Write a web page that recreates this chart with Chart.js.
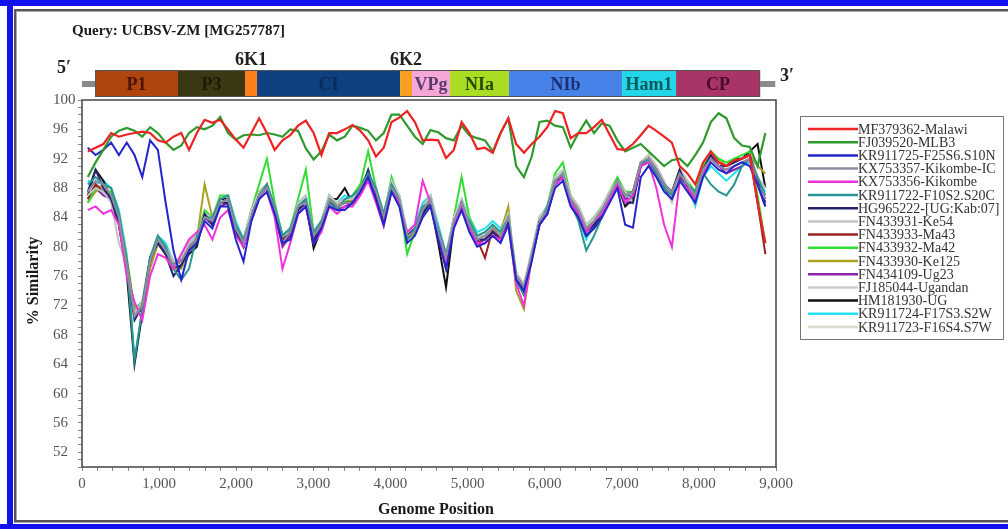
<!DOCTYPE html>
<html><head><meta charset="utf-8">
<script src="https://cdn.jsdelivr.net/npm/chart.js@4.4.1/dist/chart.umd.min.js"></script>
<style>html,body{margin:0;padding:0;background:#fff}canvas{display:block}</style>
</head><body>
<canvas id="c" width="1008" height="529"></canvas>
<script>
// ---------- DATA ----------
const titleText = 'Query: UCBSV-ZM [MG257787]';
const xTitle = 'Genome Position';
const yTitle = '% Similarity';
const firstPosition = 75, positionStep = 101, pointCount = 88;

const seriesNames = ['MF379362-Malawi','FJ039520-MLB3','KR911725-F25S6.S10N','KX753357-Kikombe-IC','KX753356-Kikombe','KR911722-F10S2.S20C','HG965222-[UG:Kab:07]','FN433931-Ke54','FN433933-Ma43','FN433932-Ma42','FN433930-Ke125','FN434109-Ug23','FJ185044-Ugandan','HM181930-UG','KR911724-F17S3.S2W','KR911723-F16S4.S7W'];

const malawi = [93,93.5,94,95.5,95,95.3,95.5,95.7,95.5,94.5, 94.2,95,95.5,93.2,95.5,97.3,96.9,97.3,96,94.6, 93.5,95.5,97.5,95.5,93.2,94.5,95.2,96.5,97.2,95.5, 92.5,95.5,95.5,96,96.6,95.8,94.5,92.3,93.5,97, 97.6,98.5,97,94.5,94.6,94.5,92.1,93.2,97,95.5, 93.3,93.5,92.8,95.5,97.5,94,92.8,94,95,96.3, 98.5,98.2,94.8,95.5,95.5,96.3,97.3,95.3,93.3,93.2, 94,95.2,96.5,95.8,95,94.2,91,90,88.5,91.5, 93,91.5,91,91.8,92,92.5,86,80.5];
const mlb3 = [89.5,91.5,93.2,95,95.8,96.2,95.8,95,96.3,95.5, 94.2,93.2,93.8,95.5,96.3,96,96.5,97.7,95.5,94.6, 95.2,95.3,95.2,95.5,95.3,95,96,95.8,93.4,91.9, 93,95.3,94.5,95,96.5,96.2,95.8,94.5,95.5,98, 98,96.5,95,94,95.9,95.6,94.8,94.5,96.5,95.2, 94.8,94.5,93,95.5,97.5,91,89.5,92.3,97,97.2, 96.5,96.3,93.5,95.5,97.2,95.5,96.8,96.5,94.5,93, 93.5,94,93,92,91,91.8,92,91,92.5,94.2, 97,98.2,97.5,94.8,93.8,93.6,91,95.5];
const f25s6 = [93.5,92.5,93.2,94.2,92.5,94.2,92.5,89.5,94.5,93.2, 86,79.5,75.5,79.5,80.5,83.5,82.5,85.5,85.5,81, 78,83.5,86.5,87.5,84.5,80.5,81,84.5,85.5,80.5, 82.5,85.5,85,85,86,87.5,89.5,86.5,83,87.5, 85.5,80.5,81.5,84,85.5,81,77,82.5,85,82, 80,80.5,81.5,80.5,83,75.5,74,78,83,84.5, 88,89,85.5,84,81.5,82.5,84,86,88,83, 82.6,89.5,91,89.5,87.5,86.5,89,87.5,86,89.5, 91.5,90.5,90,91,91.5,91,88.5,85.5];
const kikombeIC = [87.5,89,88.5,87,84,77.5,70.5,72,78,81,79.5,77.5,78,80,81,84,83.5,86,86.5,82.5, 80.5,84,87,88,85,80.5,82,85.5,86,81.5,83,86.5,85.5,86,86,88,89.5,87.5,84,88, 86.5,81.5,82,85,86.5,82,78.5,83.5,86,83,81,81.5,82.5,81.5,84,76,74.5,79,83.5,85, 89,90,86.5,85,82.5,83.5,85,87,89,87,87.5,91.5,92,90.5,88.5,87.5,90,88.5,87,90.5, 92,91,90.5,91,91.5,92,88.5,86.5];
const kikombe = [85,85.5,84.5,85,83,76,72.5,70,76,79,78.5,77,79,81,82,83,81,84,85,81.5, 80,83.5,86.5,87.5,84,77,80.5,84.5,85.5,80.5,82,85.5,84.5,85.5,85.5,87,89,86,82.8,87.5, 86,82,83,89,86,81.5,78,83,85.5,82.5,80.5,80.5,81.5,81,83,75,72,78.5,83,84.5, 88.5,89.5,86,84.5,82,83.5,84.5,86.5,88.5,86,87,91,91.5,88,83,80,89,88,86.5,90, 92,91,90.5,91,91.5,92,88.5,86.5];
const f10s2 = [88.5,89.5,88.5,88,84.5,78,64.5,71.5,78.5,81.5,80,77,75.5,77,81.5,84,84,86.5,87,83, 81,84,87,88.5,85.5,81.5,82.5,85.5,86.5,82,83.5,86,85,86.5,87,88,90,88,84.5,88.5, 86.5,81,82.5,85.5,86,82.5,79,83,85.5,83.5,81.5,82,83,82,84,75.5,73.5,78.5,83,85.5, 89,90,86,83.5,79.5,81.5,84,86.5,88.5,87,87,91,92,90,88,87,89,88.5,87.5,90, 88.5,87.5,87,88.5,91,92,89.5,87];
const ugKab = [87.5,90.5,88,86.5,83,77,70,72,78.5,80.5,79,76,77.5,79.5,80.5,84.5,83,86,86,82, 80,84,87,88,84.5,80.5,82,85,86,81,82.5,86,85.5,86,86,87.5,90.5,87,83.5,88, 86,81.5,82.5,84.5,86,81.5,77,83,86,83,81,81,82,81,83.5,76,74.5,78.5,83.5,84.5, 89,89.5,86,84.5,82,83,84.5,86.5,88.5,86,86,91,92,90.5,88.5,87.5,90.5,88,86.5,90.5, 92.5,91,91,91.5,92,92.5,89,86];
const ke54 = [87,88,87.5,86,80.5,77.5,71,72.5,78.5,81,80,78,78.5,80.5,81.5,84.5,84,86.5,87,83, 81,85,87.5,88.5,85.5,81.5,82,86,87,82,83.5,87,86,86.5,86.5,88,90,88,84.5,89, 87,82,82.5,85.5,87,82.5,79,84,86.5,83.5,81.5,82,83,82,84.5,76.5,75,79.5,84,85.5, 89.5,90.5,87,85.5,83,84,85.5,87.5,89,87.5,86,91.5,92.5,91,89,86.5,90.5,89,86,90.5, 92.5,91.5,91,91.5,92,92.5,89.5,88];
const ma43 = [86.5,88.5,87.5,87,84,78,71,72,78,81,79.5,77.5,78,80,81,84,83.5,86,86.5,82.5, 80.5,84.5,87.5,88.5,85,81,82,85.5,86.5,81.5,83,86.5,85.5,86,86,88,90,87.5,84,88.5, 86.5,81.5,82,85,86.5,82,78.5,83.5,86,82.5,81,78.5,82.5,81,84,76,74.5,79,83.5,85, 89,90,86.5,85,82.5,83.5,85,87,89,87,87.5,91.5,92,90.5,88.5,87.5,90,88.5,87,90.5, 92.5,91.5,91,91.5,92,92.5,86,79];
const ma42 = [86,88,87.5,87.5,84.5,78.5,71.5,72.5,78.5,81.5,80,78,78,80.5,81.5,85,84,87,87,83, 81,85,88.5,92,86,81.5,82.5,86.5,90.5,82,83.5,87,85.5,86,87,88.5,93,88,84,89.5, 86.5,79,82,85.5,87,82,78.5,84,89.5,84,81.5,82,83,82,84.5,76.5,74.5,79,84,85.5, 90,91.5,87,85.5,83,84,85.5,87.5,89.5,87.5,87.5,91.5,92,90.5,88,87.5,90.5,89,87.5,91, 93,92,91.5,92,92.5,93,87,80.5];
const ke125 = [86,87.5,88.5,88,84.5,78,71,71.5,77,80.5,79,77,77,79.5,81,88.5,84,86,86.5,82.5, 81,84.5,87,88,85.5,81.5,82.5,85.5,86.5,81.5,83,86.5,86,86,86.5,88.5,90,87.5,84.5,88.5, 86,81,82,85,86,82,77.5,83.5,86,83,81,81.5,82.5,82,85.5,74,71.5,78.5,83.5,85, 89,90,86.5,85.5,82.5,83.5,85,87,89,87.5,86,91.5,92.5,91,88.5,87,90,88.5,87.5,91, 92.5,92,91,91.5,92,92.5,91,90];
const ug23 = [86.5,88,87,86.5,83.5,77.5,70.5,71.5,77.5,80.5,79,77.5,78.5,80.5,81.5,84,83,85.5,86,82, 80,84,87,88,84.5,80,81.5,85,86,81,82.5,86,85,85.5,86,87.5,89.5,87,83.5,88, 86,81,82,84.5,86.5,82,78,83,86,82.5,80.5,81,82,81,83.5,75.5,74,78.5,83,84.5, 88.5,89.5,86,84.5,82,83,84.5,86.5,88.5,86.5,87,91,91.5,90,88,86.5,89.5,88,86.5,90, 92,91,90,90.5,91,92,88.5,85.5];
const ugandan = [87.5,88.5,88,87,84,78.5,71.5,72.5,78.5,81.5,80,78,78.5,80.5,81,84.5,84,86,86.5,82.5, 81,84.5,87.5,88.5,85,81,82,85.5,86.5,81.5,83,86.5,85.5,86,86.5,88,90,87.5,84,88.5, 86.5,81.5,82,85,86.5,82,79,83.5,86,83,81.5,81.5,82.5,81.5,84,76,75,79,83.5,85, 89,90,86.5,85,82.5,83.5,85,87,89,87,87.5,91.5,92,90.5,88.5,86,90,88.5,86,90.5, 92.5,91.5,91,91.5,92,92.5,89.5,88];
const hm181930 = [87,90.5,89,86.5,83,76.5,64,71,78,80.5,79,77,77.5,79,80,84.5,83,86.5,86.5,82, 80,84,87,88.5,84.5,80.5,81.5,85,86,79.8,82.5,86.5,86.5,88,86,87.5,90,87,83.5,88.5, 86,81.5,82,84.5,86,80.5,74.5,83,86,82.5,80.5,81,82,81,83.5,75.5,73.5,78.5,83,84.5, 88.5,89.5,86.5,84,81.5,82.5,84,86.5,88.5,85.5,86.5,91,92,90,88.5,87,90,88,86,90.5, 92.5,91.5,91,92,92,93,94,88];
const f17s3 = [89,88.5,89,88,85,79,64.5,71.5,78.5,81.5,80.5,78,77,80,81.5,84.5,84,86.5,87,83.5, 81,85,87.5,88.5,85.5,81.5,82.5,86,87,82,83.5,87,86,87,86.5,88,90,88,84.5,89, 87,82,83,86,87,83,79,84,86.5,84,82,82.5,83.5,82.5,84.5,76,74,79,84,85.5, 89,90,86.5,84,81,83,85,87,89,87.5,86.5,91,92,90.5,88.5,87,89.5,88.5,85.5,89.5, 91,90,89,90,91,91.5,89,87.5];
const f16s4 = [88,88.5,88,87.5,84,78,71,72,78,81,79.5,77.5,78,80,81,84.5,83.5,86,86.5,82.5, 80.5,84.5,87.5,88.5,85,81,82,85.5,86.5,81.5,83,86.5,85.5,86,86.5,88,90,87.5,84,88.5, 86.5,81.5,82,85,86.5,82,78.5,83.5,86,83,81,81.5,82.5,81.5,84,76,74.5,79,83.5,85, 89,90,86.5,85,82.5,83.5,85,87,89,87,87.5,91.5,92,90.5,88.5,87.5,90,88.5,87,90.5, 92.5,91.5,91,91.5,92,92.5,89.5,88];

const seriesValues = [malawi, mlb3, f25s6, kikombeIC, kikombe, f10s2, ugKab, ke54, ma43, ma42, ke125, ug23, ugandan, hm181930, f17s3, f16s4];

const xTickValues = [0,1000,2000,3000,4000,5000,6000,7000,8000,9000];
const yTickValues = [52,56,60,64,68,72,76,80,84,88,92,96,100];

const genomeStart = 0, genomeEnd = 8990;
const regionNames  = ['P1','P3','6K1','CI','6K2','VPg','NIa','NIb','Ham1','CP'];
const regionStarts = [169,1245,2114,2270,4125,4280,4773,5538,7004,7704];
const regionEnds   = [1245,2114,2270,4125,4280,4773,5538,7004,7704,8794];

// ---------- STYLES ----------
const seriesColors = ['#ee2222','#2e9a2e','#2424cc','#8c8ca2','#ee33dd','#2a9595','#24246e','#c4c4c4','#9a2222','#33dd33','#aaa020','#8a22aa','#cacaca','#111111','#22e0f0','#d4dccc'];
const regionColors = ['#b0440f','#3d3814','#ff7f1a','#0e4080','#f5a020','#f5a8d8','#aadd22','#4682e8','#22d5e8','#a83468'];
const regionTextColors = ['#4a1404','#1c1a08',null,'#0a2a5a',null,'#5a3a6a','#2a4a00','#1a3070','#0a5a5a','#4a0a28'];
const SERIF = "'Liberation Serif', 'DejaVu Serif', serif";

const positions = [];
for (let i = 0; i < pointCount; i++) positions.push(firstPosition + positionStep * i);

const datasets = seriesNames.map((name, i) => ({
  label: name,
  data: positions.map((p, k) => ({x: p, y: seriesValues[i][k]})),
  borderColor: seriesColors[i],
  backgroundColor: seriesColors[i],
  borderWidth: i < 2 ? 2.2 : 2,
  pointRadius: 0,
  tension: 0,
  fill: false
}));

const decorPlugin = {
  id: 'decor',
  beforeDraw(chart) {
    const ctx = chart.ctx;
    ctx.save();
    ctx.fillStyle = '#fff';
    ctx.fillRect(0, 0, chart.width, chart.height);
    ctx.restore();
  },
  afterDraw(chart) {
    const ctx = chart.ctx, xs = chart.scales.x, a = chart.chartArea;
    ctx.save();
    // plot box
    ctx.strokeStyle = '#444'; ctx.lineWidth = 1.5;
    ctx.strokeRect(a.left, a.top, a.right - a.left, a.bottom - a.top);

    // genome map
    const top = 70, bot = 97;
    ctx.fillStyle = '#8a8a8a';
    ctx.fillRect(xs.getPixelForValue(genomeStart), 81, xs.getPixelForValue(regionStarts[0]) - xs.getPixelForValue(genomeStart), 6);
    ctx.fillRect(xs.getPixelForValue(regionEnds[regionEnds.length-1]), 81, xs.getPixelForValue(genomeEnd) - xs.getPixelForValue(regionEnds[regionEnds.length-1]), 6);
    regionNames.forEach((n, i) => {
      const x0 = xs.getPixelForValue(regionStarts[i]), x1 = xs.getPixelForValue(regionEnds[i]);
      ctx.fillStyle = regionColors[i];
      ctx.fillRect(x0, top, x1 - x0, bot - top);
    });
    ctx.strokeStyle = '#555'; ctx.lineWidth = 1;
    ctx.strokeRect(xs.getPixelForValue(regionStarts[0]) + 0.5, top + 0.5, xs.getPixelForValue(regionEnds[regionEnds.length-1]) - xs.getPixelForValue(regionStarts[0]) - 1, bot - top - 1);
    ctx.textAlign = 'center'; ctx.textBaseline = 'middle';
    ctx.font = 'bold 18px ' + SERIF;
    regionNames.forEach((n, i) => {
      const x0 = xs.getPixelForValue(regionStarts[i]), x1 = xs.getPixelForValue(regionEnds[i]);
      if (regionTextColors[i]) {
        ctx.fillStyle = regionTextColors[i];
        ctx.fillText(n, (x0 + x1) / 2, 85);
      } else {
        ctx.fillStyle = '#222';
        ctx.fillText(n, (x0 + x1) / 2, 60);
      }
    });
    ctx.fillStyle = '#222';
    ctx.fillText('5\u2032', 64, 68);
    ctx.fillText('3\u2032', 787, 76);

    // title
    ctx.textAlign = 'left';
    ctx.font = 'bold 15px ' + SERIF;
    ctx.fillStyle = '#1a1a1a';
    ctx.fillText(titleText, 72, 31);

    // axis titles
    ctx.font = 'bold 16px ' + SERIF;
    ctx.textAlign = 'center';
    ctx.fillText(xTitle, 436, 510);
    ctx.save();
    ctx.translate(34, 281);
    ctx.rotate(-Math.PI / 2);
    ctx.fillText(yTitle, 0, 0);
    ctx.restore();

    // legend
    ctx.strokeStyle = '#777'; ctx.lineWidth = 1;
    ctx.strokeRect(800.5, 116.5, 203, 223);
    ctx.font = '14px ' + SERIF;
    ctx.textAlign = 'left';
    chart.data.datasets.forEach((ds, i) => {
      const y = 129 + 13.2 * i;
      ctx.strokeStyle = ds.borderColor; ctx.lineWidth = 2.5;
      ctx.beginPath(); ctx.moveTo(808, y); ctx.lineTo(858, y); ctx.stroke();
      ctx.fillStyle = '#333';
      ctx.fillText(ds.label, 858, y + 1);
    });

    // frame
    ctx.fillStyle = '#1212ee';
    ctx.fillRect(0, 0, chart.width, 6);
    ctx.fillRect(7, 0, 6, chart.height);
    ctx.fillRect(0, 524, chart.width, 5);
    ctx.fillStyle = '#555';
    ctx.fillRect(14, 9, chart.width - 14, 2);
    ctx.fillRect(14, 9, 2, 513);
    ctx.fillRect(14, 520, chart.width - 14, 2);
    ctx.fillStyle = '#aaa';
    ctx.fillRect(16, 11, chart.width - 16, 1);
    ctx.fillRect(16, 11, 1, 509);
    ctx.fillRect(14, 522, chart.width - 14, 1);
    ctx.restore();
  }
};

new Chart(document.getElementById('c'), {
  type: 'line',
  data: { datasets },
  options: {
    responsive: false,
    animation: false,
    devicePixelRatio: 1,
    layout: { padding: { left: 53, right: 232, top: 100, bottom: 0 } },
    plugins: { legend: { display: false }, tooltip: { enabled: false } },
    scales: {
      x: {
        type: 'linear', min: 0, max: 9000,
        afterBuildTicks: s => { const t = []; for (let v = 0; v <= 9000; v += 200) t.push({value: v}); s.ticks = t; },
        afterFit: s => { s.height = 62; },
        ticks: { autoSkip: false, maxRotation: 0, padding: 4, color: '#555', font: { family: SERIF, size: 15 },
          callback: v => xTickValues.includes(v) ? v.toLocaleString('en-US') : '' },
        grid: { drawOnChartArea: false, tickLength: 4, tickColor: '#888' },
        border: { display: false }
      },
      y: {
        min: 50, max: 100,
        afterBuildTicks: s => { const t = []; for (let v = 50; v <= 100; v += 1) t.push({value: v}); s.ticks = t; },
        afterFit: s => { s.width = 29; },
        ticks: { autoSkip: false, crossAlign: 'far', padding: 2, color: '#555', font: { family: SERIF, size: 15 },
          callback: v => yTickValues.includes(v) ? String(v) : '' },
        grid: { drawOnChartArea: false, tickLength: 4, tickColor: '#888' },
        border: { display: false }
      }
    }
  },
  plugins: [decorPlugin]
});
</script>
</body></html>
